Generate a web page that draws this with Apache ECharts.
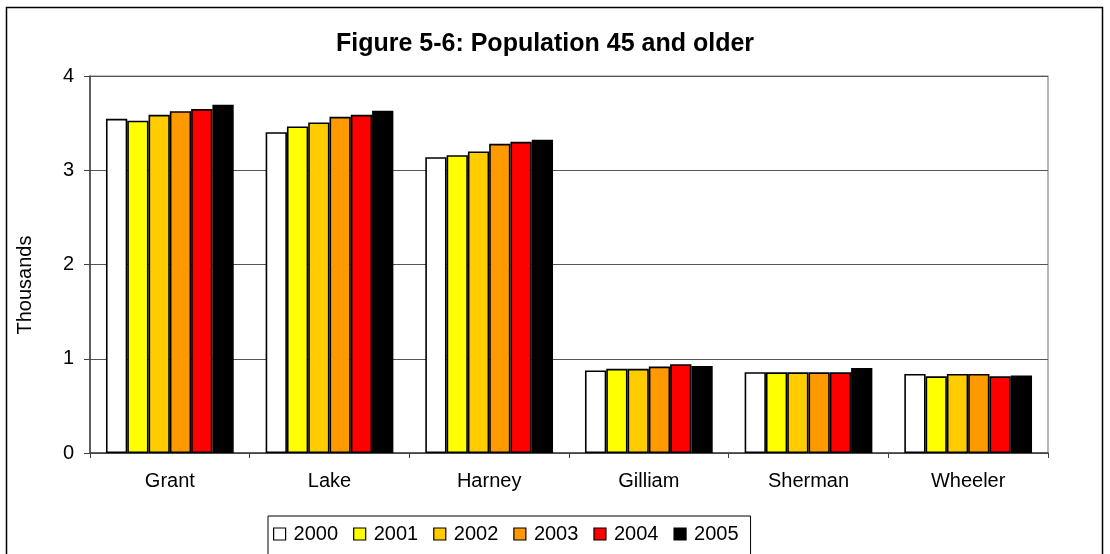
<!DOCTYPE html>
<html>
<head>
<meta charset="utf-8">
<script src="https://cdn.jsdelivr.net/npm/echarts@6/dist/echarts.min.js"></script>
<style>
html,body{margin:0;padding:0;background:#fff;}
#c{width:1110px;height:554px;}
</style>
</head>
<body>
<div id="c"></div>
<script>
var categories = ['Grant', 'Lake', 'Harney', 'Gilliam', 'Sherman', 'Wheeler'];
var years = ['2000', '2001', '2002', '2003', '2004', '2005'];
var v2000 = [3.546, 3.404, 3.139, 0.876, 0.857, 0.839];
var v2001 = [3.525, 3.465, 3.160, 0.893, 0.856, 0.814];
var v2002 = [3.588, 3.507, 3.199, 0.893, 0.856, 0.839];
var v2003 = [3.627, 3.567, 3.280, 0.917, 0.856, 0.839];
var v2004 = [3.649, 3.588, 3.302, 0.942, 0.856, 0.814];
var v2005 = [3.694, 3.631, 3.323, 0.924, 0.902, 0.821];
var yTicks = [0, 1, 2, 3, 4];
var colors = ['#FFFFFF', '#FFFF00', '#FFCC00', '#FF9900', '#FF0000', '#000000'];

var values = [v2000, v2001, v2002, v2003, v2004, v2005];
var FONT = 'Liberation Sans, Arial, sans-serif';
var series = years.map(function (y, i) {
  return {
    name: y,
    type: 'bar',
    data: values[i],
    barGap: '0%',
    barCategoryGap: '20%',
    itemStyle: { color: colors[i], borderColor: '#000', borderWidth: 1.6 },
    emphasis: { disabled: true }
  };
});

var chart = echarts.init(document.getElementById('c'), null, { renderer: 'canvas' });
chart.setOption({
  animation: false,
  backgroundColor: '#fff',
  title: {
    text: 'Figure 5-6: Population 45 and older',
    left: 540, top: 27, textAlign: 'center',
    textStyle: { fontFamily: FONT, fontWeight: 'bold', fontSize: 25, color: '#000' }
  },
  legend: {
    data: years,
    left: 268, top: 516,
    itemWidth: 12, itemHeight: 12, itemGap: 15,
    icon: 'rect',
    borderColor: '#000', borderWidth: 1,
    padding: [8, 12, 30, 5],
    textStyle: { fontFamily: FONT, fontSize: 20, color: '#000', padding: [0, 0, 0, 3] },
    itemStyle: { borderColor: '#000', borderWidth: 1.2 }
  },
  grid: {
    left: 90, right: 62, top: 76, bottom: 101, containLabel: false,
    show: true, borderColor: '#888', borderWidth: 1.2, backgroundColor: 'transparent'
  },
  xAxis: {
    type: 'category',
    data: categories,
    axisLine: { lineStyle: { color: '#404040', width: 1.5 } },
    axisTick: { show: true, length: 5, lineStyle: { color: '#404040' }, alignWithLabel: false },
    axisLabel: { fontFamily: FONT, fontSize: 20, color: '#000', margin: 18 }
  },
  yAxis: {
    type: 'value',
    min: 0, max: 4, interval: 1,
    axisLine: { show: true, lineStyle: { color: '#404040', width: 1.5 } },
    axisTick: { show: true, length: 6, lineStyle: { color: '#404040' } },
    axisLabel: { fontFamily: FONT, fontSize: 20, color: '#000', margin: 16,
      formatter: function (v) { return yTicks.indexOf(v) >= 0 ? String(v) : ''; } },
    splitLine: { show: true, lineStyle: { color: '#555', width: 1.2 } }
  },
  graphic: [{
    type: 'rect',
    shape: { x: 6.5, y: 7.5, width: 1096, height: 560 },
    style: { fill: 'none', stroke: '#000', lineWidth: 1.5 },
    silent: true, z: 100
  }, {
    type: 'text',
    x: 25, y: 285, rotation: Math.PI / 2,
    style: { text: 'Thousands', fontFamily: FONT, fontSize: 20, fill: '#000', align: 'center', verticalAlign: 'middle' },
    silent: true
  }],
  series: series
});
</script>
</body>
</html>
